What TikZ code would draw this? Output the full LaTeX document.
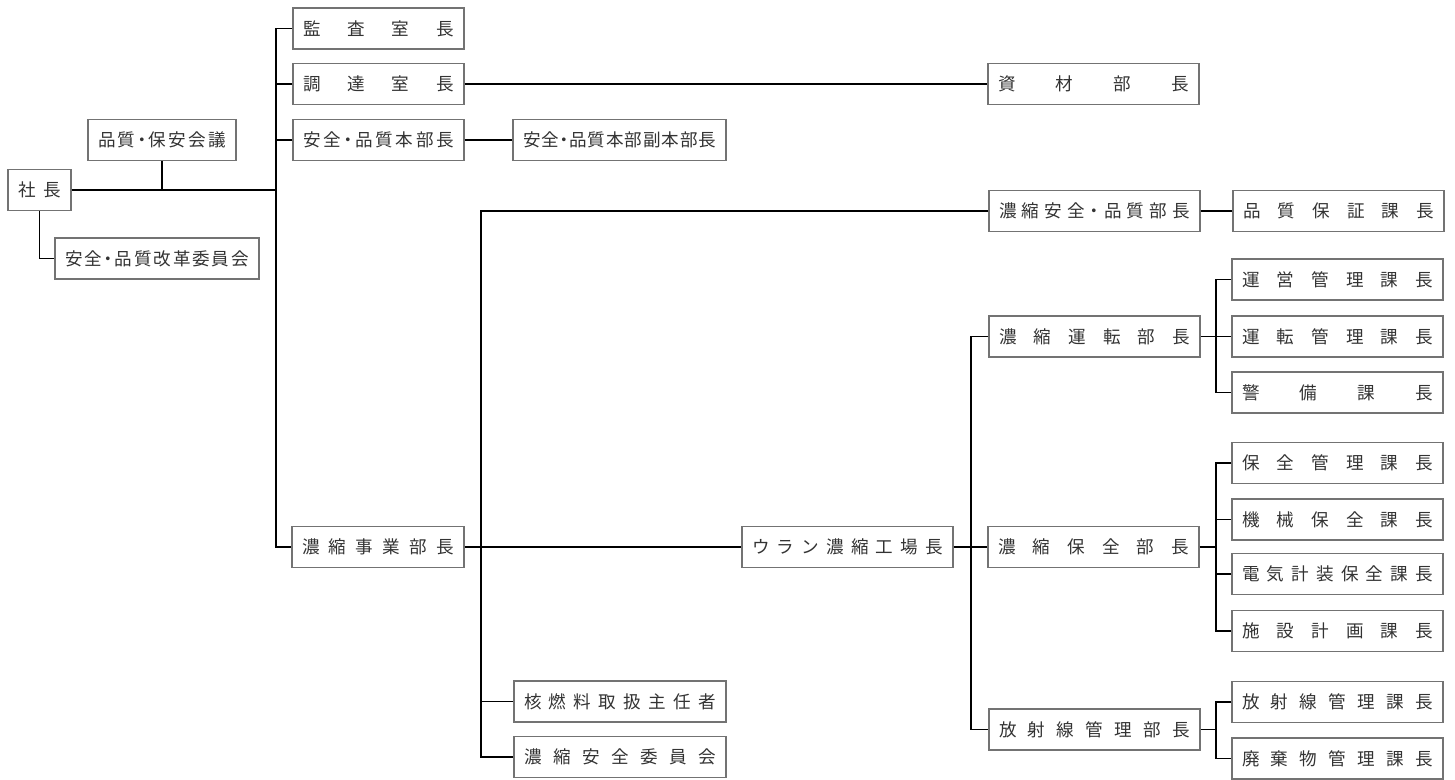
\documentclass[tikz,border=0pt]{standalone}
\usepackage{fontspec}
\setmainfont{Noto Sans CJK JP}
\usepackage{xcolor}
\usepackage{tikz}

\newlength\px
\setlength\px{0.02cm}
% spread the characters evenly over a given width (in px)
\def\kintouchars#1#2{#1\ifx\relax#2\else\hfill\expandafter\kintouchars\expandafter#2\fi}
\newcommand\kintou[2]{\makebox[#1\px][s]{\kintouchars#2\relax}}
\newcommand\naka{\makebox[0.5em][c]{・}}

\begin{document}
\begin{tikzpicture}[
    x=0.02cm, y=-0.02cm,
    box/.style={draw=black!55, line width=0.6pt, minimum width=#1*0.02cm, minimum height=41*0.02cm,
                inner sep=0pt, text=black!80, font=\fontsize{10}{12}\selectfont},
    link/.style={line width=0.6pt, black}
]
    \useasboundingbox (0,0) rectangle (1455,779);

    % President
    \node[box=63]  (shacho)  at (39.5,190)  {\kintou{43}{社長}};
    \node[box=148] (kaigi)   at (162,140)   {\kintou{128}{品質\naka 保安会議}};
    \node[box=204] (kaikaku) at (157,258.5) {\kintou{184}{安全\naka 品質改革委員会}};

    % Head office column
    \node[box=171] (kansa)    at (378.5,28.5) {\kintou{151}{監査室長}};
    \node[box=171] (chotatsu) at (378.5,84)   {\kintou{151}{調達室長}};
    \node[box=171] (honbu)    at (378.5,140)  {\kintou{151}{安全\naka 品質本部長}};
    \node[box=172] (jigyo)    at (378,547)    {\kintou{152}{濃縮事業部長}};

    \node[box=213] (fuku)   at (619.5,140) {\kintou{193}{安全\naka 品質本部副本部長}};
    \node[box=211] (shizai) at (1093.5,84) {\kintou{191}{資材部長}};

    % Enrichment division
    \node[box=211] (kojo)   at (847.5,547) {\kintou{191}{ウラン濃縮工場長}};
    \node[box=212] (shunin) at (620,701.5) {\kintou{192}{核燃料取扱主任者}};
    \node[box=212] (iinkai) at (620,757)   {\kintou{192}{濃縮安全委員会}};

    % Department heads
    \node[box=211] (anzen)   at (1094.5,211)   {\kintou{191}{濃縮安全\naka 品質部長}};
    \node[box=211] (unten)   at (1094.5,336.5) {\kintou{191}{濃縮運転部長}};
    \node[box=211] (hozen)   at (1093.5,547)   {\kintou{191}{濃縮保全部長}};
    \node[box=211] (hoshabu) at (1094.5,729.5) {\kintou{191}{放射線管理部長}};

    % Section heads
    \node[box=211] (hosho)    at (1338.5,211)   {\kintou{191}{品質保証課長}};
    \node[box=211] (uneikan)  at (1337.5,279.5) {\kintou{191}{運営管理課長}};
    \node[box=211] (untenkan) at (1337.5,336.5) {\kintou{191}{運転管理課長}};
    \node[box=211] (keibi)    at (1337.5,392.5) {\kintou{191}{警備課長}};
    \node[box=211] (hozenkan) at (1337.5,463)   {\kintou{191}{保全管理課長}};
    \node[box=211] (kikai)    at (1337.5,519.5) {\kintou{191}{機械保全課長}};
    \node[box=211] (denki)    at (1337.5,574)   {\kintou{191}{電気計装保全課長}};
    \node[box=211] (shisetsu) at (1337.5,631)   {\kintou{191}{施設計画課長}};
    \node[box=211] (hoshakan) at (1337.5,702)   {\kintou{191}{放射線管理課長}};
    \node[box=211] (haiki)    at (1337.5,758.5) {\kintou{191}{廃棄物管理課長}};

    % bus points
    \coordinate (trunk) at (276,190);
    \coordinate (jbus)  at (481,547);
    \coordinate (kbus)  at (971,547);
    \coordinate (ubus)  at (1216,336.5);
    \coordinate (hbus)  at (1216,547);
    \coordinate (rbus)  at (1216,729.5);

    % President links
    \draw[link] (shacho.east) -- (trunk);
    \draw[link] (kaigi.south) -- (kaigi.south |- trunk);
    \draw[link] (shacho.south) |- (kaikaku.west);

    % Head office links
    \draw[link] (kansa.west) -| (trunk) |- (jigyo.west);
    \draw[link] (chotatsu.west) -| (trunk);
    \draw[link] (honbu.west) -| (trunk);
    \draw[link] (chotatsu.east) -- (shizai.west);
    \draw[link] (honbu.east) -- (fuku.west);

    % Enrichment division links
    \draw[link] (jigyo.east) -- (kojo.west);
    \draw[link] (anzen.west) -| (jbus) |- (iinkai.west);
    \draw[link] (shunin.west) -| (jbus);
    \draw[link] (anzen.east) -- (hosho.west);

    % Plant links
    \draw[link] (kojo.east) -- (hozen.west);
    \draw[link] (unten.west) -| (kbus) |- (hoshabu.west);

    \draw[link] (unten.east) -- (untenkan.west);
    \draw[link] (uneikan.west) -| (ubus) |- (keibi.west);

    \draw[link] (hozen.east) -- (hbus);
    \draw[link] (hozenkan.west) -| (hbus) |- (shisetsu.west);
    \draw[link] (kikai.west) -| (hbus);
    \draw[link] (denki.west) -| (hbus);

    \draw[link] (hoshabu.east) -- (rbus);
    \draw[link] (hoshakan.west) -| (rbus) |- (haiki.west);
\end{tikzpicture}
\end{document}
